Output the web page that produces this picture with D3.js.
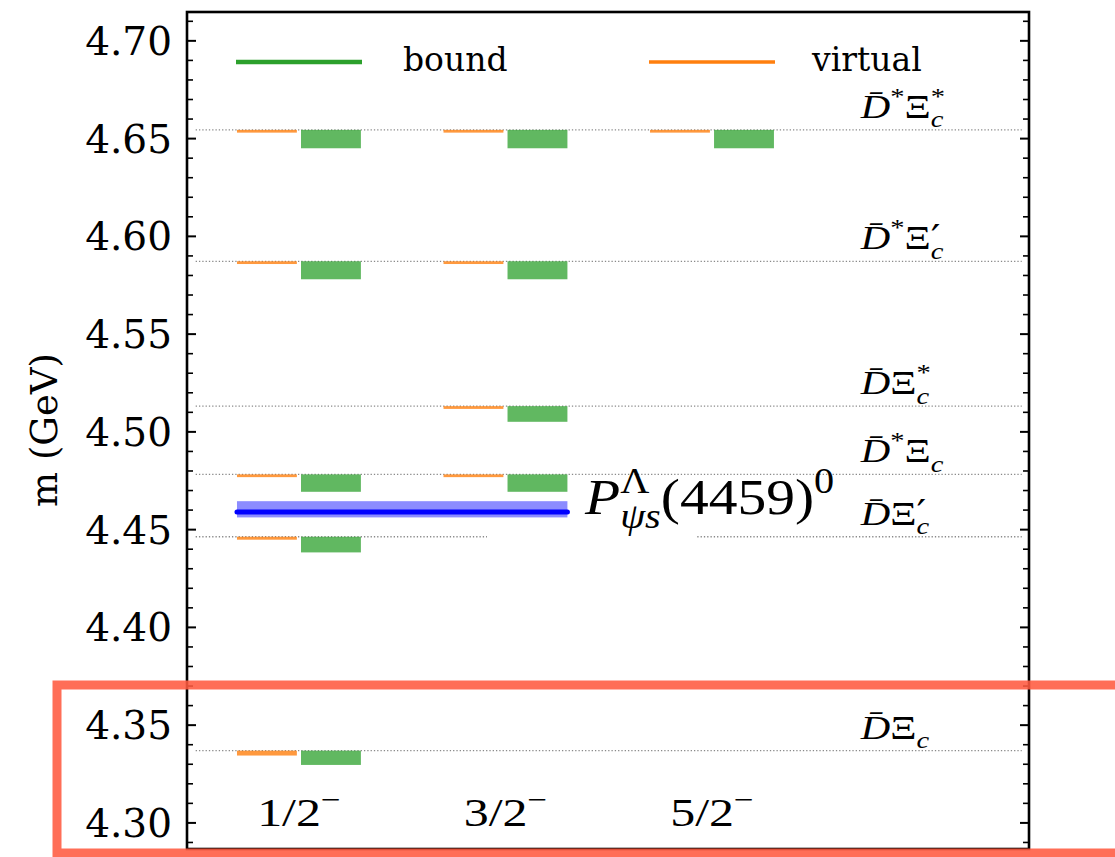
<!DOCTYPE html>
<html><head><meta charset="utf-8">
<script src="https://cdn.jsdelivr.net/npm/d3@7"></script>
<style>html,body{margin:0;padding:0;background:#fff;}svg{display:block;}</style>
</head><body>
<svg id="chart" width="1115" height="857"></svg>
<script>
// ---------- data ----------
const categories = ["1/2", "3/2", "5/2"];
const thresholdMass = [4.6542, 4.5870, 4.5129, 4.4780, 4.4461, 4.3367];
const thresholdD = [true, true, false, true, false, false];
const thresholdXiMark = ["*", "\u2032", "*", "", "\u2032", ""];
// states: category index, threshold index, bound lower edge, virtual lower edge
const stateCat = [0, 0, 0, 0, 0, 1, 1, 1, 1, 2];
const stateThr = [0, 1, 3, 4, 5, 0, 1, 2, 3, 0];
const boundLow = [4.6448, 4.5778, 4.4691, 4.4381, 4.3294, 4.6448, 4.5778, 4.5049, 4.4691, 4.6448];
const virtualLow = [4.6528, 4.5856, 4.4766, 4.4446, 4.3342, 4.6528, 4.5856, 4.5115, 4.4766, 4.6528];
const pcMass = 4.4588;
const pcBand = [4.4560, 4.4643];
const majorTicks = [4.30, 4.35, 4.40, 4.45, 4.50, 4.55, 4.60, 4.65, 4.70];
const legendLabels = ["bound", "virtual"];

// ---------- layout ----------
const svg = d3.select("#chart");
const L = 187, R = 1029, T = 12, B = 849;
const y = d3.scaleLinear().domain([4.2864, 4.7145]).range([B, T]);
const x = d3.scaleLinear().domain([-0.542, 3.535]).range([L, R]);
const GREEN = "#2ca02c", ORANGE = "#ff7f0e";

// threshold dotted lines
svg.append("g").selectAll("line").data(thresholdMass).join("line")
  .attr("x1", x(-0.5)).attr("x2", x(3.5))
  .attr("y1", d => y(d)).attr("y2", d => y(d))
  .attr("stroke", "#8a8a8a").attr("stroke-width", 1.3).attr("stroke-dasharray", "1.3,2");

// white mask (as in reference)
svg.append("rect").attr("x", 487).attr("y", 526).attr("width", 210).attr("height", 74).attr("fill", "#fff");

// virtual states
svg.append("g").selectAll("rect").data(stateCat.map((c, i) => i)).join("rect")
  .attr("x", i => x(stateCat[i] - 0.3)).attr("width", i => x(-0.01) - x(-0.3))
  .attr("y", i => y(thresholdMass[stateThr[i]]))
  .attr("height", i => y(virtualLow[i]) - y(thresholdMass[stateThr[i]]))
  .attr("fill", ORANGE).attr("fill-opacity", 0.8);
// bound states
svg.append("g").selectAll("rect").data(stateCat.map((c, i) => i)).join("rect")
  .attr("x", i => x(stateCat[i] + 0.01)).attr("width", i => x(0.3) - x(0.01))
  .attr("y", i => y(thresholdMass[stateThr[i]]))
  .attr("height", i => y(boundLow[i]) - y(thresholdMass[stateThr[i]]))
  .attr("fill", GREEN).attr("fill-opacity", 0.75);

// Pc band and line
svg.append("rect").attr("x", x(-0.3)).attr("width", x(1.3) - x(-0.3))
  .attr("y", y(pcBand[1])).attr("height", y(pcBand[0]) - y(pcBand[1]))
  .attr("fill", "#0000ff").attr("fill-opacity", 0.45);
svg.append("line").attr("x1", x(-0.3)).attr("x2", x(1.3))
  .attr("y1", y(pcMass)).attr("y2", y(pcMass))
  .attr("stroke", "#0000ff").attr("stroke-width", 5).attr("stroke-linecap", "round");

// axes
const minor = d3.range(4.29, 4.715, 0.01).map(v => +v.toFixed(2)).filter(v => !majorTicks.some(m => Math.abs(m - v) < 1e-6));
function styleAxis(g) { g.select(".domain").remove(); g.selectAll(".tick line").attr("stroke", "#000"); }
svg.append("g").attr("transform", `translate(${L},0)`)
  .call(d3.axisLeft(y).tickValues(majorTicks).tickSize(-9).tickPadding(15).tickFormat(d3.format(".2f")))
  .call(styleAxis)
  .call(g => g.selectAll(".tick line").attr("stroke-width", 2))
  .call(g => g.selectAll("text").attr("font-family", "DejaVu Serif").attr("font-size", 39).attr("fill", "#000").attr("dy", "0.36em"));
svg.append("g").attr("transform", `translate(${L},0)`)
  .call(d3.axisLeft(y).tickValues(minor).tickSize(-6).tickFormat(""))
  .call(styleAxis).call(g => g.selectAll(".tick line").attr("stroke-width", 1.6));
svg.append("g").attr("transform", `translate(${R},0)`)
  .call(d3.axisRight(y).tickValues(majorTicks).tickSize(-9).tickFormat(""))
  .call(styleAxis).call(g => g.selectAll(".tick line").attr("stroke-width", 2));
svg.append("g").attr("transform", `translate(${R},0)`)
  .call(d3.axisRight(y).tickValues(minor).tickSize(-6).tickFormat(""))
  .call(styleAxis).call(g => g.selectAll(".tick line").attr("stroke-width", 1.6));
svg.append("rect").attr("x", L).attr("y", T).attr("width", R - L).attr("height", B - T)
  .attr("fill", "none").attr("stroke", "#000").attr("stroke-width", 2.6);

// y label
svg.append("text").attr("transform", "translate(57,430) rotate(-90)")
  .attr("text-anchor", "middle").attr("font-family", "DejaVu Serif").attr("font-size", 37)
  .text("m (GeV)");

// legend
svg.append("line").attr("x1", 236).attr("x2", 362).attr("y1", 62).attr("y2", 62)
  .attr("stroke", GREEN).attr("stroke-width", 4.5);
svg.append("line").attr("x1", 649).attr("x2", 775).attr("y1", 62).attr("y2", 62)
  .attr("stroke", ORANGE).attr("stroke-width", 3.5);
svg.append("text").attr("x", 403).attr("y", 71).attr("font-family", "DejaVu Serif").attr("font-size", 33).text(legendLabels[0]);
svg.append("text").attr("x", 812).attr("y", 71).attr("font-family", "DejaVu Serif").attr("font-size", 33).text(legendLabels[1]);

// math text helper
function mathText(tx, ty, sx, size, parts, anchor) {
  const g = svg.append("g").attr("transform", `translate(${tx},${ty}) scale(${sx},1)`);
  const t = g.append("text").attr("font-family", "Liberation Serif").attr("font-size", size).attr("fill", "#000");
  let cur = 0, lastW = 0;
  parts.forEach(p => {
    const pos = p.pos || "base";
    const off = p.off !== undefined ? p.off * size : pos === "sup" ? -0.42 * size : pos === "sub" ? 0.28 * size : 0;
    const ts = t.append("tspan").attr("dy", off - cur).text(p.t)
      .attr("font-style", p.it ? "italic" : "normal")
      .attr("font-size", (p.scale || (pos === "base" ? 1 : 0.7)) * size);
    if (p.font) ts.attr("font-family", p.font);
    if (p.stack) ts.attr("dx", -lastW);
    cur = off;
    lastW = ts.node().getComputedTextLength();
  });
  if (anchor === "middle") {
    const w = t.node().getComputedTextLength();
    t.attr("x", -w / 2);
  }
  return g;
}

// threshold labels
thresholdMass.forEach((m, i) => {
  const parts = [{ t: "D\u0304", it: true }];
  if (thresholdD[i]) parts.push({ t: "*", pos: "sup" });
  parts.push({ t: "\u039E" });
  const mk = thresholdXiMark[i];
  if (mk === "*") { parts.push({ t: "c", it: true, pos: "sub" }); parts.push({ t: "*", pos: "sup", stack: true }); }
  else if (mk) { parts.push({ t: mk, pos: "sup", off: 0.02, font: "DejaVu Serif", scale: 1.05 }); parts.push({ t: "c", it: true, pos: "sub", stack: true }); }
  else parts.push({ t: "c", it: true, pos: "sub" });
  mathText(x(2.72), y(m) - 12, 1.2, 34, parts);
});

// category labels
categories.forEach((c, i) => {
  mathText(x(i), 826, 1.25, 40, [{ t: c }, { t: "\u2212", pos: "sup" }], "middle");
});

// Pc label
mathText(585, 514, 1.15, 50, [
  { t: "P", it: true }, { t: "\u039B", pos: "sup" }, { t: "\u03C8s", it: true, pos: "sub", stack: true },
  { t: "(4459)" }, { t: "0", pos: "sup" }
]);

// red highlight box (annotation)
svg.append("rect").attr("x", 57).attr("y", 685).attr("width", 1115).attr("height", 168)
  .attr("fill", "none").attr("stroke", "#ff5a40").attr("stroke-opacity", 0.88).attr("stroke-width", 9);
</script>
</body></html>
